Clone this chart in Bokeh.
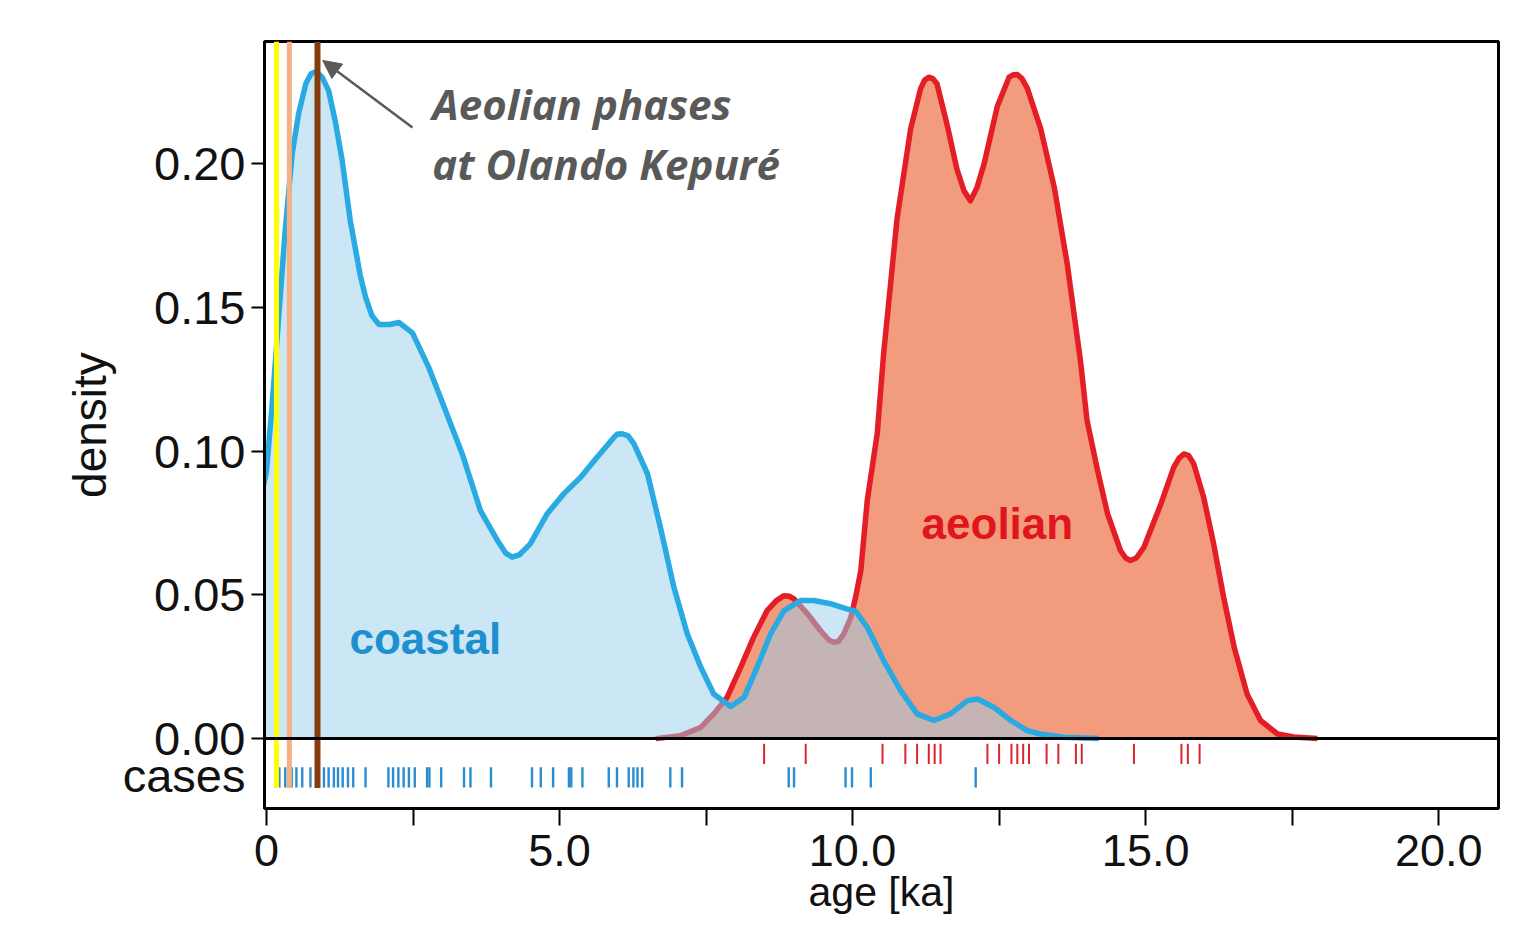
from bokeh.plotting import figure
from bokeh.models import Range1d, FixedTicker, Span, Label, Arrow, NormalHead
from bokeh.embed import file_html
from bokeh.resources import INLINE

# ---------------- data ----------------
coastal_x = [-0.05, 0.0, 0.10, 0.21, 0.32, 0.44, 0.55, 0.67, 0.76, 0.84, 0.95, 1.06, 1.17,
             1.29, 1.43, 1.52, 1.60, 1.69, 1.80, 1.92, 2.10, 2.26, 2.49, 2.77, 3.00, 3.34,
             3.65, 3.94, 4.08, 4.19, 4.32, 4.50, 4.79, 5.07, 5.36, 5.64, 5.93, 5.98, 6.07,
             6.17, 6.27, 6.50, 6.72, 6.95, 7.18, 7.41, 7.63, 7.92, 8.15, 8.37, 8.60, 8.83,
             9.11, 9.34, 9.62, 9.90, 10.05, 10.25, 10.42, 10.53, 10.82, 11.10, 11.39,
             11.67, 11.96, 12.13, 12.41, 12.70, 12.98, 13.20, 13.60, 14.20]
coastal_y = [0.088, 0.093, 0.117, 0.147, 0.177, 0.2036, 0.2175, 0.2277, 0.2312, 0.2319,
             0.2300, 0.2253, 0.215, 0.2012, 0.1800, 0.1700, 0.1610, 0.1535, 0.1470, 0.1440,
             0.1440, 0.1447, 0.1411, 0.129, 0.117, 0.099, 0.0793, 0.0689, 0.0645, 0.0631,
             0.0640, 0.0677, 0.0782, 0.0851, 0.0909, 0.0978, 0.1048, 0.1058, 0.106, 0.1053,
             0.1025, 0.0921, 0.0735, 0.0527, 0.0364, 0.0248, 0.0155, 0.0112, 0.0144, 0.0248,
             0.0364, 0.0445, 0.048, 0.048, 0.0469, 0.0451, 0.0443, 0.0387, 0.0318, 0.0271,
             0.0167, 0.0086, 0.0063, 0.0086, 0.0132, 0.0138, 0.0109, 0.0063, 0.0028, 0.0016,
             0.0005, 0.0]

aeolian_x = [6.64, 7.06, 7.41, 7.63, 7.86, 8.09, 8.31, 8.54, 8.70, 8.83, 8.92, 9.00, 9.23,
             9.45, 9.60, 9.68, 9.76, 9.85, 9.97, 10.05, 10.14, 10.25, 10.42, 10.53, 10.76,
             10.99, 11.16, 11.23, 11.30, 11.37, 11.44, 11.61, 11.78, 11.90, 12.01, 12.12,
             12.24, 12.47, 12.67, 12.74, 12.81, 12.89, 12.98, 13.21, 13.44, 13.66, 13.89,
             14.00, 14.18, 14.35, 14.57, 14.66, 14.74, 14.84, 14.97, 15.26, 15.48, 15.57,
             15.65, 15.73, 15.82, 15.99, 16.16, 16.33, 16.51, 16.73, 16.96, 17.25, 17.53,
             17.93]
aeolian_y = [0.0, 0.001, 0.0039, 0.0086, 0.0144, 0.0248, 0.0352, 0.0445, 0.0480, 0.0497,
             0.0495, 0.0486, 0.0434, 0.0376, 0.0342, 0.0335, 0.0338, 0.0364, 0.0422, 0.0491,
             0.0584, 0.0828, 0.106, 0.134, 0.181, 0.212, 0.226, 0.2290, 0.230, 0.2295,
             0.2277, 0.2137, 0.198, 0.1905, 0.187, 0.1915, 0.1996, 0.2199, 0.230, 0.2308,
             0.2309, 0.2295, 0.2262, 0.212, 0.1918, 0.1653, 0.131, 0.1106, 0.0932, 0.0782,
             0.0654, 0.0628, 0.0619, 0.0628, 0.0665, 0.0816, 0.0944, 0.0975, 0.099, 0.0985,
             0.0956, 0.0839, 0.0677, 0.0492, 0.0318, 0.0155, 0.0063, 0.0016, 0.0006, 0.0]

coastal_cases = [0.22, 0.32, 0.43, 0.51, 0.61, 0.75, 0.98, 1.06, 1.15, 1.22, 1.30, 1.39,
                 1.48, 1.69, 2.08, 2.16, 2.25, 2.34, 2.43, 2.53, 2.74, 2.78, 2.98, 3.37,
                 3.48, 3.83, 4.53, 4.68, 4.89, 5.16, 5.20, 5.39, 5.84, 5.98, 6.18, 6.26,
                 6.33, 6.41, 6.89, 7.09, 8.91, 9.00, 9.88, 9.99, 10.31, 12.10]
aeolian_cases = [8.49, 9.20, 10.51, 10.90, 11.10, 11.30, 11.40, 11.50, 12.30, 12.50, 12.71,
                 12.81, 12.91, 13.01, 13.31, 13.51, 13.81, 13.91, 14.80, 15.61, 15.72, 15.92]

phase_ages = [0.17, 0.39, 0.87]
phase_colors = ["#ffff00", "#f4b183", "#843c0c"]
phase_widths = [5, 5, 6]

x_ticks = [0, 5, 10, 15, 20]
x_minor_ticks = [2.5, 7.5, 12.5, 17.5]
x_tick_labels = ["0", "5.0", "10.0", "15.0", "20.0"]
cases_pos = -0.0129
y_ticks = [cases_pos, 0.0, 0.05, 0.10, 0.15, 0.20]
y_tick_labels = ["cases", "0.00", "0.05", "0.10", "0.15", "0.20"]
y_tick_marks = [0.0, 0.05, 0.10, 0.15, 0.20]

# ---------------- figure ----------------
p = figure(width=1517, height=918,
           x_range=Range1d(-0.034, 21.02), y_range=Range1d(-0.0243, 0.2424),
           output_backend="svg", toolbar_location=None,
           min_border_left=264, min_border_right=19, min_border_top=41, min_border_bottom=110)
p.grid.visible = False
p.outline_line_color = "black"
p.outline_line_width = 3
p.background_fill_color = "white"
p.border_fill_color = "white"

LABEL_FONT = "Liberation Sans"

xa = p.xaxis[0]
xa.ticker = FixedTicker(ticks=x_ticks, minor_ticks=x_minor_ticks)
xa.major_label_overrides = {t: l for t, l in zip(x_ticks, x_tick_labels)}
xa.major_tick_out = 17
xa.major_tick_in = 0
xa.minor_tick_out = 17
xa.minor_tick_in = 0
xa.major_tick_line_width = 2
xa.minor_tick_line_width = 2
xa.major_tick_line_color = "black"
xa.minor_tick_line_color = "black"
xa.axis_line_color = "black"
xa.axis_line_width = 3
xa.major_label_text_font = LABEL_FONT
xa.major_label_text_font_size = "45px"
xa.major_label_text_color = "#111111"
xa.major_label_standoff = 9
xa.axis_label = "age [ka]"
xa.axis_label_text_font = LABEL_FONT
xa.axis_label_text_font_style = "normal"
xa.axis_label_text_font_size = "41px"
xa.axis_label_text_color = "#111111"
xa.axis_label_standoff = 0

# major ticks carry the labels (no tick line); minor ticks draw the tick marks
ya = p.yaxis[0]
ya.ticker = FixedTicker(ticks=y_ticks, minor_ticks=y_tick_marks)
ya.major_label_overrides = {t: l for t, l in zip(y_ticks, y_tick_labels)}
ya.major_tick_out = 0
ya.major_tick_in = 0
ya.minor_tick_out = 13
ya.minor_tick_in = 0
ya.minor_tick_line_width = 2
ya.minor_tick_line_color = "black"
ya.axis_line_color = "black"
ya.axis_line_width = 3
ya.major_label_text_font = LABEL_FONT
ya.major_label_text_font_size = "47px"
ya.major_label_text_color = "#111111"
ya.major_label_standoff = 6
ya.axis_label = "density"
ya.axis_label_text_font = LABEL_FONT
ya.axis_label_text_font_style = "normal"
ya.axis_label_text_font_size = "46px"
ya.axis_label_text_color = "#111111"
ya.axis_label_standoff = 4


def smooth_line(xs, ys, **kw):
    try:
        return p.spline(xs, ys, tension=0.5, **kw)
    except Exception:
        return p.line(xs, ys, line_join="round", **kw)


# ---------------- densities ----------------
p.varea(x=aeolian_x, y1=0, y2=aeolian_y, fill_color="#f29b7d", fill_alpha=1.0)
smooth_line(aeolian_x, aeolian_y, line_color="#e31e26", line_width=5.5)
p.varea(x=coastal_x, y1=0, y2=coastal_y, fill_color="#97cdec", fill_alpha=0.5)
smooth_line(coastal_x, coastal_y, line_color="#2aaae2", line_width=5.5)

p.add_layout(Span(location=0, dimension="width", line_color="black", line_width=3))

# ---------------- rug ("cases") ----------------
p.segment(x0=aeolian_cases, y0=[-0.0018] * len(aeolian_cases),
          x1=aeolian_cases, y1=[-0.0088] * len(aeolian_cases),
          line_color="#d9262b", line_width=2)
p.segment(x0=coastal_cases, y0=[-0.0100] * len(coastal_cases),
          x1=coastal_cases, y1=[-0.0170] * len(coastal_cases),
          line_color="#2b8dd0", line_width=2.4)

# ---------------- aeolian phases at Olando Kepuré ----------------
for xv, c, w in zip(phase_ages, phase_colors, phase_widths):
    p.segment(x0=[xv], y0=[-0.0172], x1=[xv], y1=[0.2424], line_color=c, line_width=w)

p.add_layout(Arrow(end=NormalHead(size=18, fill_color="#595959", line_color="#595959"),
                   x_start=2.49, y_start=0.2125, x_end=0.96, y_end=0.2358,
                   line_color="#595959", line_width=2.5))

ann_font = "Open Sans"
p.add_layout(Label(x=2.83, y=0.2209, text="Aeolian phases", text_font=ann_font,
                   text_font_style="bold italic", text_font_size="42px",
                   text_color="#595959", text_baseline="middle", text_align="left"))
p.add_layout(Label(x=2.83, y=0.2000, text="at Olando Kepuré", text_font=ann_font,
                   text_font_style="bold italic", text_font_size="42px",
                   text_color="#595959", text_baseline="middle", text_align="left"))

p.add_layout(Label(x=2.71, y=0.0348, text="coastal", text_font=LABEL_FONT,
                   text_font_style="bold", text_font_size="44px", text_color="#1e90d0",
                   text_baseline="middle", text_align="center"))
p.add_layout(Label(x=12.47, y=0.0748, text="aeolian", text_font=LABEL_FONT,
                   text_font_style="bold", text_font_size="44px", text_color="#e0161c",
                   text_baseline="middle", text_align="center"))

open("out.html", "w").write(file_html(p, INLINE))
